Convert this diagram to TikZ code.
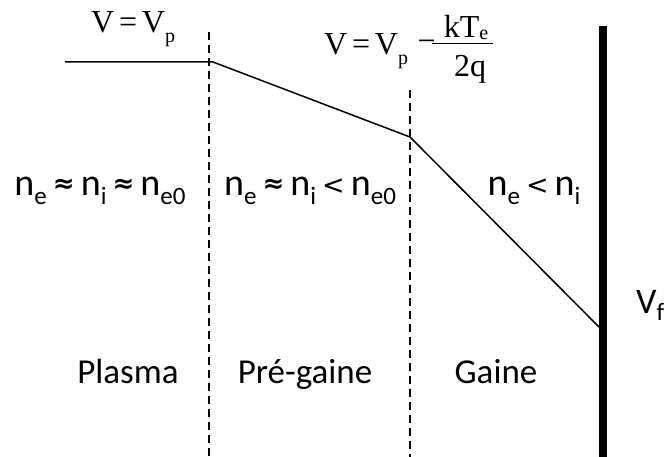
\documentclass[tikz,border=0pt]{standalone}
\usepackage{fontspec}
\setmainfont{Liberation Serif}
\newfontfamily\calibri{Carlito}
\newfontfamily\symbols{DejaVu Sans}
\newcommand{\nsub}[1]{\raisebox{-0.22em}{\fontsize{25}{25}\selectfont #1}}
\newcommand{\vsub}[1]{\raisebox{-0.3em}{\fontsize{20}{20}\selectfont #1}}
\newcommand{\numsub}[1]{\raisebox{-0.05em}{\fontsize{20}{20}\selectfont #1}}
\newcommand{\approxrel}{\hspace{0.16em}\raisebox{0.1em}{\symbols\bfseries\fontsize{26}{26}\selectfont ≈}\hspace{0.16em}}
\newcommand{\lessrel}{\hspace{0.16em}\raisebox{0.03em}{\symbols\fontsize{27}{27}\selectfont <}\hspace{0.16em}}

\begin{document}
\begin{tikzpicture}[x=1pt, y=-1pt,
    potential/.style={line width=1.5pt, line join=miter},
    boundary/.style={line width=1.1pt, dash pattern=on 8pt off 5pt},
    wall/.style={line width=8pt},
    fracbar/.style={line width=1pt},
    density/.style={anchor=base, inner sep=0pt, font=\calibri\fontsize{38}{40}\selectfont},
    region/.style={anchor=base, inner sep=0pt, font=\calibri\fontsize{35}{40}\selectfont},
    formula/.style={anchor=base, inner sep=0pt, font=\fontsize{32}{34}\selectfont}
]
    \useasboundingbox (0,0) rectangle (667,457);

    % --- potential profile ---
    \coordinate (plasmaStart) at (65,62);
    \coordinate (plasmaEdge) at (213,62);
    \coordinate (sheathEdge) at (410,137);
    \coordinate (wallPoint) at (599,327);
    \draw[potential] (plasmaStart) -- (plasmaEdge) -- (sheathEdge) -- (wallPoint);

    % --- region boundaries ---
    \coordinate (preTop) at (209,32);
    \coordinate (preBottom) at (209,457);
    \coordinate (sheathTop) at (410,90);
    \coordinate (sheathBottom) at (410,457);
    \draw[boundary] (preTop) -- (preBottom);
    \draw[boundary] (sheathTop) -- (sheathBottom);

    % --- wall ---
    \coordinate (wallTop) at (603,26);
    \coordinate (wallBottom) at (603,457);
    \draw[wall] (wallTop) -- (wallBottom);

    % --- potentials ---
    \node[formula, anchor=base west] (vPlasma) at (91,33)
        {V\hspace{0.15em}=\hspace{0.15em}V\vsub{p}};
    \node[formula, anchor=base west] (vPresheath) at (324,55)
        {V\hspace{0.15em}=\hspace{0.15em}V\vsub{p}\hspace{0.3em}\raisebox{0.1em}{−}};
    \node[formula] (kTe) at (466,38) {kT\numsub{e}};
    \node[formula] (twoQ) at (470,77) {2q};
    \coordinate (barLeft) at (432,44);
    \coordinate (barRight) at (493,44);
    \draw[fracbar] (barLeft) -- (barRight);
    \node[region, anchor=base west, font=\calibri\fontsize{36}{40}\selectfont] (vFloat) at (636,313) {V\nsub{f}};

    % --- densities ---
    \node[density] (densPlasma) at (100,196)
        {n\nsub{e}\approxrel n\nsub{i}\approxrel n\nsub{e0}};
    \node[density] (densPresheath) at (310,196)
        {n\nsub{e}\approxrel n\nsub{i}\lessrel n\nsub{e0}};
    \node[density] (densSheath) at (534,196) {n\nsub{e}\lessrel n\nsub{i}};

    % --- regions ---
    \node[region] (plasma) at (128,383) {Plasma};
    \node[region] (presheath) at (305,383) {Pré-gaine};
    \node[region] (sheath) at (496,383) {Gaine};
\end{tikzpicture}
\end{document}
